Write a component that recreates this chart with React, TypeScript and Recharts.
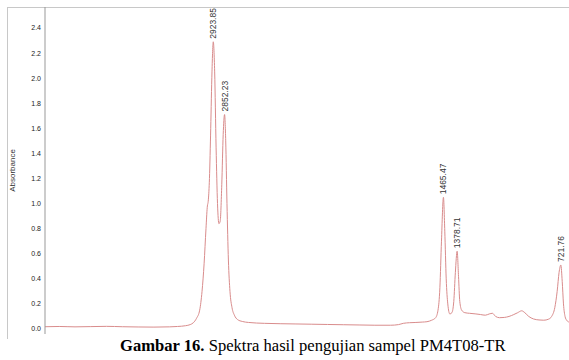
import React from "react";
import { LineChart, Line, XAxis, YAxis, ReferenceDot } from "recharts";

// FTIR spectrum, wavenumber (cm-1) descending
const wavenumbers = [
  3990, 3900, 3800, 3700, 3600, 3500, 3400, 3300, 3200, 3150, 3100, 3070, 3050, 3030, 3010, 2995, 2982, 2970,
  2962, 2955, 2948, 2940, 2932, 2923.85, 2915, 2906, 2897, 2888, 2880, 2870, 2861, 2852.23, 2845, 2837, 2828,
  2818, 2805, 2790, 2770, 2740, 2700, 2600, 2500, 2400, 2300, 2200, 2100, 2000, 1900, 1800, 1750, 1720, 1680,
  1640, 1600, 1570, 1540, 1515, 1500, 1488, 1478, 1465.47, 1457, 1448, 1438, 1425, 1412, 1400, 1390, 1378.71,
  1370, 1362, 1350, 1330, 1300, 1260, 1230, 1200, 1175, 1155, 1135, 1110, 1080, 1050, 1020, 995, 970, 950, 925,
  895, 860, 830, 800, 780, 760, 745, 733, 721.76, 713, 705, 695, 685, 670,
];

const absorbance = [
  0.018, 0.02, 0.017, 0.019, 0.021, 0.018, 0.016, 0.015, 0.017, 0.02, 0.026, 0.035, 0.05, 0.085, 0.15, 0.3, 0.52, 0.8,
  0.97, 1.03, 1.2, 1.6, 2.05, 2.29, 2.05, 1.45, 1.0, 0.84, 0.86, 1.15, 1.55, 1.71, 1.5, 1.0, 0.55,
  0.3, 0.17, 0.11, 0.075, 0.06, 0.052, 0.045, 0.042, 0.04, 0.038, 0.036, 0.034, 0.032, 0.03, 0.03, 0.035, 0.045, 0.05,
  0.052, 0.055, 0.058, 0.07, 0.09, 0.15, 0.33, 0.7, 1.05, 0.78, 0.4, 0.2, 0.12, 0.13, 0.22, 0.45, 0.62,
  0.42, 0.22, 0.15, 0.13, 0.125, 0.12, 0.115, 0.11, 0.12, 0.125, 0.1, 0.09, 0.092, 0.1, 0.115, 0.13, 0.145, 0.13, 0.1,
  0.08, 0.072, 0.07, 0.078, 0.1, 0.17, 0.3, 0.45, 0.51, 0.38, 0.2, 0.1, 0.07, 0.055,
];

const peakPositions = [2923.85, 2852.23, 1465.47, 1378.71, 721.76];

const yTicks = [0, 0.2, 0.4, 0.6, 0.8, 1.0, 1.2, 1.4, 1.6, 1.8, 2.0, 2.2, 2.4];

const spectrum = wavenumbers.map((wn, i) => ({ wn, abs: absorbance[i] }));

const LINE_COLOR = "#d98c8c";
const SANS = "'Liberation Sans', Arial, sans-serif";

function PeakLabel(props: any) {
  const { viewBox, value } = props;
  if (!viewBox) return null;
  const cx = viewBox.x + (viewBox.width || 0) / 2;
  const top = viewBox.y - 2;
  return (
    <text
      x={cx}
      y={top}
      transform={`rotate(-90 ${cx} ${top})`}
      textAnchor="start"
      dominantBaseline="central"
      fontSize={8.5}
      fontFamily={SANS}
      fill="#333"
    >
      {value}
    </text>
  );
}

function AxisTitle(props: any) {
  const { viewBox } = props;
  if (!viewBox) return null;
  const x = 12;
  const y = viewBox.y + viewBox.height / 2;
  return (
    <text
      x={x}
      y={y}
      transform={`rotate(-90 ${x} ${y})`}
      textAnchor="middle"
      dominantBaseline="central"
      fontSize={8}
      fontFamily={SANS}
      fill="#333"
    >
      Absorbance
    </text>
  );
}

export default function App() {
  return (
    <div style={{ position: "absolute", left: 0, top: 0, width: 569, height: 360, background: "#fff", overflow: "hidden" }}>
      <div
        style={{
          position: "absolute",
          left: 7,
          top: 7,
          width: 570,
          height: 331,
          borderLeft: "1px solid #c8c8c8",
          borderTop: "1px solid #c8c8c8",
        }}
      />
      <div style={{ position: "absolute", left: 0, top: 0 }}>
        <LineChart width={569} height={340} data={spectrum} margin={{ top: 7, right: 0, bottom: 6, left: 0 }}>
          <XAxis dataKey="wn" type="number" domain={[670, 3990]} reversed hide allowDataOverflow />
          <YAxis
            width={45}
            type="number"
            domain={[-0.04, 2.5675]}
            ticks={yTicks}
            interval={0}
            allowDataOverflow
            tickLine={false}
            tickSize={2}
            tickMargin={2}
            axisLine={{ stroke: "#999" }}
            tick={{ fontSize: 7, fill: "#222", fontFamily: SANS }}
            tickFormatter={(v: number) => v.toFixed(1)}
            label={{ content: (p: any) => <AxisTitle {...p} /> }}
          />
          <Line
            type="monotone"
            dataKey="abs"
            stroke={LINE_COLOR}
            strokeWidth={1}
            dot={false}
            isAnimationActive={false}
          />
          {peakPositions.map((p) => (
            <ReferenceDot
              key={p}
              x={p}
              y={absorbance[wavenumbers.indexOf(p)]}
              r={1}
              fill="none"
              stroke="none"
              label={{ value: p.toFixed(2), content: (lp: any) => <PeakLabel {...lp} value={p.toFixed(2)} /> }}
            />
          ))}
        </LineChart>
      </div>
      <div
        style={{
          position: "absolute",
          left: 120,
          top: 337,
          whiteSpace: "nowrap",
          fontFamily: "'Liberation Serif', 'Times New Roman', serif",
          fontSize: 16.6,
          lineHeight: "18px",
          color: "#000",
        }}
      >
        <b>Gambar 16.</b> Spektra hasil pengujian sampel PM4T08-TR
      </div>
    </div>
  );
}
